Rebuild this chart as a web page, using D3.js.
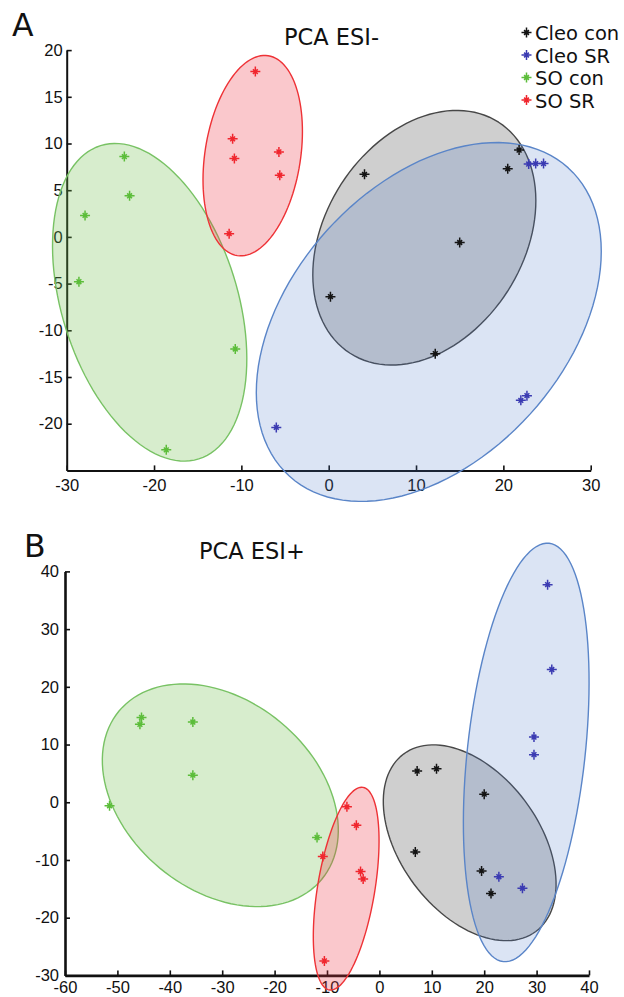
<!DOCTYPE html>
<html>
<head>
<meta charset="utf-8">
<script src="https://cdnjs.cloudflare.com/ajax/libs/d3/7.8.5/d3.min.js"></script>
<style>
  body { margin: 0; background: #fff; }
  svg { display: block; font-family: "DejaVu Sans", sans-serif; }
  .axis path, .axis line { stroke: #111; }
  .axis text { fill: #111; font-size: 16.5px; }
</style>
</head>
<body>
<div id="chart"></div>
<script>
// Datos
// =====
var groups = ["Cleo con", "Cleo SR", "SO con", "SO SR"];

// PCA ESI- (panel A), pares [PC1, PC2]
var esiNegCleoCon = [[4.1, 6.7], [21.8, 9.3], [20.5, 7.3], [15.0, -0.6], [0.2, -6.4], [12.2, -12.5]];
var esiNegCleoSR  = [[22.9, 7.8], [23.7, 7.85], [24.6, 7.85], [22.0, -17.5], [22.7, -17.0], [-6.0, -20.4]];
var esiNegSOCon   = [[-23.4, 8.6], [-22.8, 4.4], [-27.9, 2.3], [-28.6, -4.8], [-10.7, -12.0], [-18.6, -22.8]];
var esiNegSOSR    = [[-8.4, 17.7], [-11.0, 10.5], [-10.8, 8.4], [-5.7, 9.1], [-5.6, 6.6], [-11.4, 0.35]];

// PCA ESI+ (panel B)
var esiPosCleoCon = [[7.2, 5.4], [10.9, 5.8], [20.0, 1.4], [6.85, -8.6], [19.5, -11.9], [21.3, -15.8]];
var esiPosCleoSR  = [[32.1, 37.7], [32.9, 23.0], [29.5, 11.3], [29.5, 8.25], [22.8, -12.9], [27.3, -14.9]];
var esiPosSOCon   = [[-51.5, -0.6], [-45.4, 14.7], [-45.7, 13.5], [-35.6, 13.9], [-35.6, 4.7], [-11.9, -6.1]];
var esiPosSOSR    = [[-6.2, -0.8], [-4.4, -4.0], [-10.8, -9.4], [-3.6, -12.0], [-3.1, -13.3], [-10.5, -27.5]];

// Elipses de confianza: centro, semieje mayor y semieje menor (vectores, en unidades de datos)
var esiNegEllipses = [
  {g: 2, c: [-20.5, -7.0], a: [5.62, -16.77], b: [-9.6, -2.82]},
  {g: 3, c: [-8.7, 8.7],   a: [1.77, 10.7],   b: [5.41, -0.78]},
  {g: 0, c: [10.95, -0.09], a: [8.5, 12.37],  b: [9.53, -5.73]},
  {g: 1, c: [11.46, -9.11], a: [15.97, 16.5], b: [11.62, -9.84]}
];
var esiPosEllipses = [
  {g: 2, c: [-30.36, 1.21], a: [19.33, -14.59], b: [-11.55, -12.62]},
  {g: 3, c: [-6.34, -14.97], a: [3.21, 17.55],  b: [5.39, -0.81]},
  {g: 0, c: [17.23, -7.02],  a: [12.62, -15.37], b: [-10.61, -7.18]},
  {g: 1, c: [28.02, 8.63],   a: [4.37, 36.24],  b: [11.17, -1.11]}
];

var esiNegXTicks = [-30, -20, -10, 0, 10, 20, 30];
var esiNegYTicks = [-20, -15, -10, -5, 0, 5, 10, 15, 20];
var esiPosXTicks = [-60, -50, -40, -30, -20, -10, 0, 10, 20, 30, 40];
var esiPosYTicks = [-30, -20, -10, 0, 10, 20, 30, 40];

// Estilos por grupo
var markerColor = ["#141414", "#3b3bb2", "#5cbd3a", "#f0262e"];
var fillColor   = ["#000000", "#4a78c8", "#70be4c", "#ee3344"];
var fillOpacity = [0.19, 0.2, 0.28, 0.27];
var strokeColor = ["#474747", "#5a85c8", "#78c264", "#ee3236"];

var W = 624, H = 997;
var svg = d3.select("#chart").append("svg").attr("width", W).attr("height", H);

var starPath = "M-5,0H5M0,-5V5M-2.4,-2.4L2.4,2.4M-2.4,2.4L2.4,-2.4";

function drawPanel(opt) {
  var x = d3.scaleLinear().domain(opt.xDomain).range(opt.xRange);
  var y = d3.scaleLinear().domain(opt.yDomain).range(opt.yRange);
  var g = svg.append("g");

  // Ejes (ticks hacia adentro)
  g.append("g").attr("class", "axis")
    .attr("transform", "translate(0," + opt.yRange[0] + ")")
    .call(d3.axisBottom(x).tickValues(opt.xTicks).tickFormat(function(d) { return String(d); })
      .tickSizeInner(-5).tickSizeOuter(0).tickPadding(opt.xPad))
    .call(function(s) {
      s.select(".domain").attr("stroke-width", opt.axisWidth);
      s.selectAll(".tick line").attr("stroke-width", 1.6);
    });

  g.append("g").attr("class", "axis")
    .attr("transform", "translate(" + opt.xRange[0] + ",0)")
    .call(d3.axisLeft(y).tickValues(opt.yTicks).tickFormat(function(d) { return String(d); })
      .tickSizeInner(-5).tickSizeOuter(0).tickPadding(opt.yPad))
    .call(function(s) {
      s.select(".domain").attr("stroke-width", opt.axisWidth);
      s.selectAll(".tick line").attr("stroke-width", 1.6);
    });

  // Elipses (encima de los ejes, semitransparentes)
  var line = d3.line();
  g.selectAll("path.ellipse")
    .data(opt.ellipses)
    .enter()
      .append("path")
      .attr("class", "ellipse")
      .attr("d", function(e) {
        var pts = d3.range(0, 361, 3).map(function(deg) {
          var t = deg * Math.PI / 180;
          return [x(e.c[0] + e.a[0] * Math.cos(t) + e.b[0] * Math.sin(t)),
                  y(e.c[1] + e.a[1] * Math.cos(t) + e.b[1] * Math.sin(t))];
        });
        return line(pts) + "Z";
      })
      .attr("fill", function(e) { return fillColor[e.g]; })
      .attr("fill-opacity", function(e) { return fillOpacity[e.g]; })
      .attr("stroke", function(e) { return strokeColor[e.g]; })
      .attr("stroke-width", 1.4);

  // Puntos
  opt.series.forEach(function(data, gi) {
    g.selectAll(null)
      .data(data)
      .enter()
        .append("path")
        .attr("d", starPath)
        .attr("transform", function(d) { return "translate(" + x(d[0]) + "," + y(d[1]) + ")"; })
        .attr("fill", "none")
        .attr("stroke", markerColor[gi])
        .attr("stroke-width", 1.5);
  });

  // Letra del panel y título
  g.append("text").attr("x", opt.letterX).attr("y", opt.letterY)
    .attr("font-size", 31.5).attr("fill", "#111").text(opt.letter);
  g.append("text").attr("x", opt.titleX).attr("y", opt.titleY)
    .attr("font-size", 22.5).attr("fill", "#111").text(opt.title);
}

drawPanel({
  letter: "A", letterX: 12, letterY: 36,
  title: "PCA ESI-", titleX: 284, titleY: 45,
  xDomain: [-30, 30], xRange: [66.7, 590.7],
  yDomain: [-25, 20], yRange: [470.4, 50.1],
  xTicks: esiNegXTicks, yTicks: esiNegYTicks, xPad: 9, yPad: 4, axisWidth: 2,
  ellipses: esiNegEllipses,
  series: [esiNegCleoCon, esiNegCleoSR, esiNegSOCon, esiNegSOSR]
});

drawPanel({
  letter: "B", letterX: 24, letterY: 557,
  title: "PCA ESI+", titleX: 199, titleY: 558.5,
  xDomain: [-60, 40], xRange: [65, 589],
  yDomain: [-30, 40], yRange: [975.4, 571.4],
  xTicks: esiPosXTicks, yTicks: esiPosYTicks, xPad: 6, yPad: 6, axisWidth: 2.6,
  ellipses: esiPosEllipses,
  series: [esiPosCleoCon, esiPosCleoSR, esiPosSOCon, esiPosSOSR]
});

// Leyenda
var legend = svg.append("g").attr("transform", "translate(526.5,32.5)");
var item = legend.selectAll("g")
  .data(groups)
  .enter()
    .append("g")
    .attr("transform", function(d, i) { return "translate(0," + (i * 22.5) + ")"; });
item.append("path")
  .attr("d", starPath)
  .attr("fill", "none")
  .attr("stroke", function(d, i) { return markerColor[i]; })
  .attr("stroke-width", 1.5);
item.append("text")
  .attr("x", 8.5).attr("y", 7.5)
  .attr("font-size", 19.5).attr("fill", "#111")
  .text(function(d) { return d; });
</script>
</body>
</html>
